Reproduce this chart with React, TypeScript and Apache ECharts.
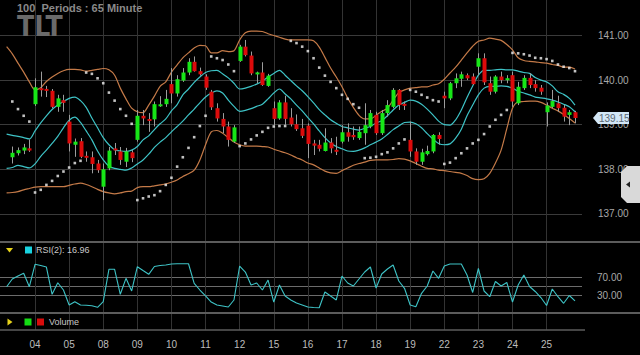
import React, { useEffect, useRef } from 'react';
import * as echarts from 'echarts';

// ---------- data ----------
const sessionDays = ['03', '04', '05', '08', '09', '10', '11', '12', '15', '16', '17', '18', '19', '22', '23', '24', '25'];
const barsPerSession = [4, 6, 6, 6, 6, 6, 6, 6, 6, 6, 6, 6, 6, 6, 6, 6, 6];

// [open, close, low, high]
const candles: number[][] = [
  [138.27, 138.37, 138.13, 138.51], [138.36, 138.43, 138.31, 138.49], [138.42, 138.49, 138.34, 138.57], [138.47, 138.42, 138.39, 138.67],
  [139.46, 139.84, 139.42, 140.04], [139.80, 139.79, 139.63, 140.19], [139.80, 139.76, 139.62, 139.87], [139.76, 139.40, 139.37, 139.80],
  [139.40, 139.59, 139.29, 139.67], [139.55, 139.49, 139.29, 139.67], [139.07, 138.58, 138.40, 139.22], [138.55, 138.62, 138.28, 138.69],
  [138.63, 138.28, 138.25, 138.70], [138.30, 138.26, 138.17, 138.40], [138.27, 138.12, 137.91, 138.40], [138.13, 137.98, 137.92, 138.21],
  [137.61, 138.00, 137.31, 138.13], [138.02, 138.42, 137.98, 138.50], [138.46, 138.43, 138.32, 138.59], [138.40, 138.21, 138.10, 138.50],
  [138.17, 138.40, 138.05, 138.48], [138.38, 138.25, 138.16, 138.43], [138.66, 139.20, 138.62, 139.33], [139.20, 139.14, 138.99, 139.33],
  [139.12, 139.09, 138.84, 139.26], [139.12, 139.46, 138.96, 139.52], [139.42, 139.45, 139.40, 139.64], [139.46, 139.58, 139.40, 139.78],
  [139.91, 139.70, 139.48, 140.27], [139.70, 140.02, 139.63, 140.11], [139.99, 140.17, 139.96, 140.27], [140.17, 140.41, 140.11, 140.49],
  [140.41, 140.20, 140.19, 140.53], [140.20, 140.13, 140.10, 140.28], [140.08, 139.83, 139.78, 140.13], [139.74, 139.39, 139.33, 139.78],
  [139.37, 139.14, 139.07, 139.48], [139.13, 138.96, 138.81, 139.26], [138.96, 138.66, 138.51, 139.07], [138.62, 138.94, 138.59, 138.99],
  [140.43, 140.75, 140.41, 140.79], [140.75, 140.56, 140.53, 140.90], [140.55, 140.15, 140.11, 140.64], [140.14, 140.16, 139.93, 140.19],
  [140.17, 139.89, 139.87, 140.40], [139.87, 140.10, 139.85, 140.14], [139.37, 139.13, 138.99, 139.52], [139.14, 139.50, 139.11, 139.55],
  [139.50, 139.13, 138.99, 139.65], [139.16, 139.01, 138.96, 139.37], [139.01, 138.90, 138.86, 139.23], [138.92, 138.75, 138.70, 139.13],
  [138.98, 138.57, 138.25, 139.03], [138.58, 138.53, 138.32, 138.66], [138.55, 138.46, 138.40, 138.66], [138.41, 138.60, 138.40, 138.92],
  [138.60, 138.47, 138.36, 138.70], [138.43, 138.40, 138.32, 138.73], [138.62, 138.83, 138.58, 138.99], [138.83, 138.73, 138.62, 139.03],
  [138.77, 138.72, 138.66, 138.96], [138.70, 138.84, 138.66, 138.96], [138.81, 138.99, 138.55, 139.48], [138.96, 139.26, 138.92, 139.33],
  [139.22, 138.81, 138.77, 139.29], [138.81, 139.26, 138.77, 139.33], [139.26, 139.44, 139.18, 139.55], [139.40, 139.78, 139.37, 139.82],
  [139.78, 139.44, 139.33, 139.80], [139.46, 139.43, 139.33, 139.52], [138.66, 138.40, 138.28, 139.07], [138.40, 138.17, 138.10, 138.47],
  [138.17, 138.38, 138.10, 138.46], [138.34, 138.41, 138.31, 138.53], [138.40, 138.77, 138.36, 138.79], [138.77, 138.68, 138.55, 138.83],
  [139.65, 139.59, 139.37, 139.74], [139.59, 139.93, 139.55, 139.96], [139.93, 140.04, 139.82, 140.15], [140.03, 140.13, 139.85, 140.19],
  [140.11, 140.04, 140.00, 140.15], [140.08, 139.91, 139.89, 140.15], [140.30, 140.49, 140.11, 140.60], [140.49, 139.95, 139.89, 140.60],
  [139.93, 139.74, 139.67, 140.08], [139.74, 140.08, 139.70, 140.11], [140.08, 140.00, 139.93, 140.19], [140.00, 140.04, 139.93, 140.11],
  [140.11, 139.52, 139.40, 140.19], [139.48, 139.85, 139.44, 139.96], [139.82, 140.05, 139.78, 140.11], [140.05, 139.89, 139.82, 140.15],
  [139.91, 139.82, 139.74, 140.00], [139.83, 139.74, 139.67, 139.89], [139.28, 139.43, 138.96, 139.50], [139.40, 139.53, 139.37, 139.78],
  [139.48, 139.37, 139.29, 139.65], [139.38, 139.18, 139.07, 139.44], [139.22, 139.28, 138.99, 139.33], [139.28, 139.15, 139.03, 139.31],
];

// indicator lines start one bar before the first visible candle (bar -1)
const indicatorStart = -1;

const bbUpper = [
  140.75,
  140.59, 140.38, 140.18, 139.96, 139.78, 139.83, 139.97, 140.07, 140.15, 140.21,
  140.24, 140.24, 140.23, 140.20, 140.22, 140.24, 140.26, 140.23, 140.11, 139.82,
  139.58, 139.37, 139.29, 139.27, 139.44, 139.64, 139.86, 139.96, 140.18, 140.34,
  140.50, 140.61, 140.72, 140.78, 140.77, 140.61, 140.61, 140.66, 140.64, 140.66,
  140.90, 141.06, 141.10, 141.10, 141.09, 141.04, 141.00, 140.96, 140.92, 140.90,
  140.90, 140.90, 140.90, 140.88, 140.74, 140.51, 140.27, 140.07, 139.85, 139.60,
  139.39, 139.21, 139.13, 139.13, 139.21, 139.30, 139.37, 139.55, 139.72, 139.78,
  139.82, 139.83, 139.85, 139.85, 139.89, 139.92, 140.02, 140.16, 140.29, 140.45,
  140.61, 140.76, 140.87, 140.90, 140.94, 140.92, 140.89, 140.80, 140.68, 140.50,
  140.44, 140.42, 140.41, 140.39, 140.38, 140.35, 140.33, 140.29, 140.29, 140.25,
];

const bbLower = [
  137.47,
  137.48, 137.50, 137.54, 137.57, 137.60, 137.61, 137.61, 137.61, 137.61, 137.61,
  137.64, 137.67, 137.69, 137.66, 137.61, 137.55, 137.50, 137.47, 137.45, 137.47,
  137.50, 137.51, 137.59, 137.61, 137.61, 137.63, 137.65, 137.67, 137.71, 137.76,
  137.84, 137.90, 137.98, 138.21, 138.55, 138.84, 138.87, 138.81, 138.71, 138.61,
  138.55, 138.52, 138.52, 138.52, 138.51, 138.50, 138.45, 138.41, 138.37, 138.32,
  138.26, 138.21, 138.14, 138.10, 138.03, 137.96, 137.92, 137.91, 137.97, 138.03,
  138.09, 138.13, 138.16, 138.20, 138.21, 138.21, 138.21, 138.22, 138.24, 138.23,
  138.19, 138.13, 138.07, 138.02, 138.01, 137.98, 137.97, 137.95, 137.93, 137.91,
  137.86, 137.79, 137.77, 137.79, 137.91, 138.14, 138.43, 138.91, 139.37, 139.51,
  139.52, 139.53, 139.53, 139.50, 139.44, 139.37, 139.31, 139.23, 139.14, 139.04,
];

const channelUpper = [
  138.79,
  138.76, 138.74, 138.71, 138.68, 138.86, 139.04, 139.20, 139.34, 139.44, 139.52,
  139.59, 139.62, 139.54, 139.39, 139.15, 138.93, 138.71, 138.55, 138.44, 138.41,
  138.40, 138.43, 138.51, 138.66, 138.75, 138.89, 139.02, 139.13, 139.31, 139.45,
  139.67, 139.80, 139.95, 140.07, 140.17, 140.21, 140.22, 140.14, 140.05, 139.93,
  139.80, 139.82, 139.86, 139.91, 139.98, 140.07, 140.15, 140.22, 140.11, 139.99,
  139.87, 139.76, 139.63, 139.49, 139.34, 139.22, 139.11, 139.03, 138.96, 138.93,
  138.90, 138.88, 138.92, 138.96, 139.04, 139.09, 139.20, 139.33, 139.44, 139.50,
  139.55, 139.53, 139.46, 139.35, 139.22, 139.08, 139.00, 138.99, 139.11, 139.33,
  139.61, 139.87, 140.11, 140.22, 140.22, 140.23, 140.24, 140.23, 140.23, 140.20,
  140.17, 140.15, 140.06, 140.00, 139.96, 139.87, 139.74, 139.68, 139.59, 139.44,
];

const channelLower = [
  138.02,
  138.04, 138.09, 138.06, 138.03, 138.12, 138.29, 138.43, 138.58, 138.74, 138.93,
  139.10, 139.17, 139.05, 138.86, 138.66, 138.41, 138.21, 138.07, 138.02, 138.00,
  137.98, 138.03, 138.12, 138.21, 138.34, 138.49, 138.61, 138.71, 138.84, 138.96,
  139.08, 139.22, 139.35, 139.49, 139.62, 139.71, 139.76, 139.71, 139.55, 139.41,
  139.30, 139.32, 139.36, 139.41, 139.46, 139.58, 139.71, 139.80, 139.69, 139.58,
  139.44, 139.31, 139.16, 139.02, 138.86, 138.71, 138.59, 138.51, 138.46, 138.41,
  138.40, 138.43, 138.48, 138.55, 138.61, 138.68, 138.78, 138.89, 138.97, 139.05,
  139.06, 139.02, 138.93, 138.80, 138.68, 138.58, 138.55, 138.57, 138.70, 138.90,
  139.20, 139.44, 139.67, 139.82, 139.86, 139.86, 139.87, 139.86, 139.82, 139.75,
  139.71, 139.67, 139.62, 139.60, 139.58, 139.55, 139.51, 139.46, 139.40, 139.29,
];

// parabolic SAR, one value per candle
const sar = [
  139.52, 139.35, 139.20, 139.07,
  137.48, 137.54, 137.65, 137.74, 137.85, 137.95, 138.04, 138.14, 138.19,
  140.17, 140.14, 140.04, 139.93, 139.72, 139.54, 139.35, 139.20, 139.02,
  137.31, 137.35, 137.39, 137.42, 137.51, 137.65, 137.81, 138.06, 138.27, 138.48, 138.72, 138.97, 139.20,
  140.53, 140.49, 140.45, 140.35, 140.20,
  138.52, 138.58, 138.67, 138.76, 138.84, 138.93, 138.96, 138.97, 138.97,
  140.88, 140.83, 140.75, 140.65, 140.49, 140.28, 140.10, 139.96, 139.82, 139.67, 139.58, 139.46, 139.38,
  138.25, 138.26, 138.28, 138.34, 138.38, 138.47, 138.58, 138.67,
  139.78, 139.74, 139.67, 139.61, 139.55, 139.52,
  138.12, 138.15, 138.25, 138.36, 138.47, 138.58, 138.66, 138.79, 138.96, 139.11, 139.22, 139.33,
  140.61, 140.60, 140.58, 140.55, 140.50, 140.49, 140.47, 140.43, 140.35, 140.30, 140.27, 140.20,
];

// RSI(2), from bar -1
const rsi2 = [
  48.4,
  65.6, 72.2, 78.2, 48.4, 98.2, 95.6, 92.2, 31.6, 57.3, 41.1,
  7.8, 15.1, 7.8, 7.1, 6.2, 2.7, 15.1, 87.1, 87.1, 31.6,
  67.1, 38.9, 92.9, 84.4, 76.0, 93.3, 95.6, 96.7, 98.9, 99.5,
  99.5, 99.5, 56.0, 41.1, 27.8, 14.4, 7.8, 5.6, 3.3, 18.9,
  94.4, 81.1, 52.2, 56.7, 41.1, 63.3, 14.4, 52.2, 27.8, 18.9,
  12.2, 7.8, 3.3, 2.2, 1.8, 36.7, 27.8, 18.9, 72.2, 56.7,
  50.0, 65.6, 81.1, 92.2, 45.6, 76.7, 87.8, 96.7, 61.1, 44.9,
  7.8, 4.0, 33.8, 50.0, 83.3, 67.1, 94.4, 98.9, 98.9, 98.9,
  74.4, 35.6, 88.9, 38.9, 26.2, 60.0, 50.0, 57.8, 14.4, 52.2,
  74.4, 48.9, 37.8, 24.4, 6.7, 43.3, 26.2, 11.6, 28.9, 16.96,
];

const priceTicks = [137, 138, 139, 140, 141];
const rsiLevels = [30, 50, 70];
const rsiLabelLevels = [30, 70];

const symbolName = 'TLT';
const periodText = '100  Periods : 65 Minute';
const rsiName = 'RSI(2)';
const volumeName = 'Volume';

// ---------- derived ----------
const sessionStart: number[] = [];
barsPerSession.reduce((acc, n) => { sessionStart.push(acc); return acc + n; }, 0);
const labelStarts = sessionStart.slice(1);
const labelByIndex: Record<number, string> = {};
labelStarts.forEach((s, k) => { labelByIndex[s] = sessionDays[k + 1]; });

const withIndex = (arr: number[], start: number) => arr.map((v, k) => [k + start, v]);

const FONT = "'Liberation Sans', Arial, sans-serif";
const GREEN = '#17e617';
const RED = '#dc0b0b';
const WICK = '#9c9c9c';
const ORANGE = '#c47a48';
const CYAN = '#3ec3c6';
const GRID = '#333333';

// layout (pixels)
const PLOT_W = 582;
const X_MIN = -2.164;
const X_MAX = 100.23;

export default function App() {
  const ref = useRef<HTMLDivElement>(null);

  useEffect(() => {
    const chart = echarts.init(ref.current!, null, { renderer: 'svg' });

    const xAxisFor = (g: number) => ({
      type: 'value',
      gridIndex: g,
      min: X_MIN,
      max: X_MAX,
      axisLine: { show: false },
      axisTick: { show: false, customValues: labelStarts },
      axisLabel: g === 2
        ? {
            show: true,
            customValues: labelStarts,
            formatter: (v: number) => labelByIndex[Math.round(v)] ?? '',
            color: '#bdbdbd',
            fontSize: 10,
            fontFamily: FONT,
            margin: 9,
          }
        : { show: false },
      splitLine: { show: true, lineStyle: { color: GRID, width: 1 } },
    });

    const lineSeries = (name: string, arr: number[], color: string) => ({
      name, type: 'line', xAxisIndex: 0, yAxisIndex: 0,
      data: withIndex(arr, indicatorStart), showSymbol: false, smooth: 0.3,
      lineStyle: { color, width: 1.2 }, z: 2,
    });

    const option: any = {
      backgroundColor: '#000000',
      animation: false,
      grid: [
        { left: 0, top: 0, width: PLOT_W, height: 242 },
        { left: 0, top: 242, width: PLOT_W, height: 71 },
        { left: 0, top: 313, width: PLOT_W, height: 17 },
      ],
      xAxis: [xAxisFor(0), xAxisFor(1), xAxisFor(2)],
      yAxis: [
        {
          type: 'value', gridIndex: 0, position: 'right',
          min: 136.37, max: 141.796,
          axisLine: { show: false },
          axisTick: { show: false, customValues: priceTicks },
          axisLabel: {
            customValues: priceTicks,
            formatter: (v: number) => v.toFixed(2),
            color: '#a8a8a8', fontSize: 10, fontFamily: FONT, margin: 16,
          },
          splitLine: { show: true, lineStyle: { color: '#3a3a3a', width: 1 } },
        },
        {
          type: 'value', gridIndex: 1, position: 'right',
          min: -10, max: 147.8,
          axisLine: { show: false },
          axisTick: { show: false, customValues: rsiLevels },
          axisLabel: {
            customValues: rsiLabelLevels,
            formatter: (v: number) => v.toFixed(2),
            color: '#a8a8a8', fontSize: 10, fontFamily: FONT, margin: 15,
          },
          splitLine: { show: true, lineStyle: { color: '#6c6c6c', width: 1 } },
        },
        {
          type: 'value', gridIndex: 2, position: 'right', min: 0, max: 1,
          axisLine: { show: false }, axisTick: { show: false }, axisLabel: { show: false },
          splitLine: { show: false },
        },
      ],
      series: [
        lineSeries('BB Upper', bbUpper, ORANGE),
        lineSeries('BB Lower', bbLower, ORANGE),
        lineSeries('Channel Upper', channelUpper, CYAN),
        lineSeries('Channel Lower', channelLower, CYAN),
        {
          name: 'SAR', type: 'scatter', xAxisIndex: 0, yAxisIndex: 0,
          data: withIndex(sar, 0), symbol: 'rect', symbolSize: 2.6,
          itemStyle: { color: '#f2f2f2' }, z: 3,
        },
        {
          name: 'TLT', type: 'custom', xAxisIndex: 0, yAxisIndex: 0,
          data: candles.map((c, i) => [i, c[0], c[1], c[2], c[3]]),
          encode: { x: 0, y: [1, 2, 3, 4] },
          z: 4,
          renderItem: (params: any, api: any) => {
            const i = api.value(0);
            const o = api.value(1);
            const c = api.value(2);
            const lo = api.value(3);
            const hi = api.value(4);
            const pO = api.coord([i, o]);
            const pC = api.coord([i, c]);
            const pL = api.coord([i, lo]);
            const pH = api.coord([i, hi]);
            const xc = Math.round(pO[0]);
            const top = Math.min(pO[1], pC[1]);
            let h = Math.abs(pO[1] - pC[1]);
            let y0 = top;
            if (h < 2) { y0 = (pO[1] + pC[1]) / 2 - 1; h = 2; }
            const up = c >= o;
            return {
              type: 'group',
              children: [
                {
                  type: 'line',
                  shape: { x1: xc + 0.5, y1: pH[1], x2: xc + 0.5, y2: pL[1] },
                  style: { stroke: WICK, lineWidth: 1 },
                },
                {
                  type: 'rect',
                  shape: { x: xc - 1.5, y: y0, width: 4, height: h },
                  style: { fill: up ? GREEN : RED },
                },
              ],
            };
          },
        },
        {
          name: rsiName, type: 'line', xAxisIndex: 1, yAxisIndex: 1,
          data: withIndex(rsi2, indicatorStart), showSymbol: false,
          lineStyle: { color: CYAN, width: 1.1 }, z: 3,
        },
      ],
    };

    chart.setOption(option);

    const last = candles[candles.length - 1][1];
    const ty = chart.convertToPixel({ yAxisIndex: 0 }, last) as unknown as number;

    const graphic: any[] = [
      // separators
      { type: 'line', shape: { x1: 0, y1: 242, x2: 640, y2: 242 }, style: { stroke: '#5c5c5c', lineWidth: 2 }, z: 50 },
      { type: 'line', shape: { x1: 0, y1: 313, x2: 640, y2: 313 }, style: { stroke: '#5c5c5c', lineWidth: 2 }, z: 50 },
      { type: 'line', shape: { x1: 0, y1: 330, x2: 585, y2: 330 }, style: { stroke: '#5c5c5c', lineWidth: 1.5 }, z: 50 },
      // watermark header
      {
        type: 'text', x: 17, y: 12, z: 60,
        style: { text: symbolName, fill: '#6a6a6a', font: `bold 28px 'Liberation Sans Narrow', 'DejaVu Sans Condensed', sans-serif` },
      },
      {
        type: 'text', x: 17, y: 7.5, z: 61,
        style: { text: periodText, fill: '#8a8a8a', font: `bold 11px ${FONT}`, verticalAlign: 'middle', textVerticalAlign: 'middle' },
      },
      // RSI header
      { type: 'polygon', shape: { points: [[6, 248], [13, 248], [9.5, 252.5]] }, style: { fill: '#e6d21a' }, z: 60 },
      { type: 'rect', shape: { x: 25, y: 246.5, width: 7, height: 7 }, style: { fill: '#19d3e0' }, z: 60 },
      {
        type: 'text', x: 36, y: 250, z: 60,
        style: { text: `${rsiName}: ${rsi2[rsi2.length - 1].toFixed(2)}`, fill: '#c8c8c8', font: `9px ${FONT}`, verticalAlign: 'middle', textVerticalAlign: 'middle' },
      },
      // Volume header
      { type: 'polygon', shape: { points: [[7.5, 318.5], [12.5, 322], [7.5, 325.5]] }, style: { fill: '#e6d21a' }, z: 60 },
      { type: 'rect', shape: { x: 24.5, y: 318.5, width: 7, height: 7 }, style: { fill: '#14dd14' }, z: 60 },
      { type: 'rect', shape: { x: 37, y: 318.5, width: 7, height: 7 }, style: { fill: '#d80c0c' }, z: 60 },
      {
        type: 'text', x: 49, y: 322, z: 60,
        style: { text: volumeName, fill: '#c8c8c8', font: `9px ${FONT}`, verticalAlign: 'middle', textVerticalAlign: 'middle' },
      },
      // last price tag
      {
        type: 'polygon', z: 70,
        shape: { points: [[593, ty], [598, ty - 6], [629, ty - 6], [629, ty + 6], [598, ty + 6]] },
        style: { fill: '#d3e7f6' },
      },
      {
        type: 'text', x: 599, y: ty, z: 71,
        style: { text: last.toFixed(2), fill: '#5b6773', font: `10px ${FONT}`, verticalAlign: 'middle', textVerticalAlign: 'middle' },
      },
      // scroll tab
      {
        type: 'polygon', z: 70,
        shape: { points: [[627, 166], [640, 166], [640, 203], [627, 203], [621, 197], [621, 172]] },
        style: { fill: '#d9d9d9' },
      },
      { type: 'polygon', z: 71, shape: { points: [[626, 184.5], [630, 181.5], [630, 187.5]] }, style: { fill: '#222' } },
    ];

    chart.setOption({ graphic });

    return () => chart.dispose();
  }, []);

  return (
    <div
      ref={ref}
      style={{ width: 640, height: 355, position: 'fixed', left: 0, top: 0, background: '#000' }}
    />
  );
}
